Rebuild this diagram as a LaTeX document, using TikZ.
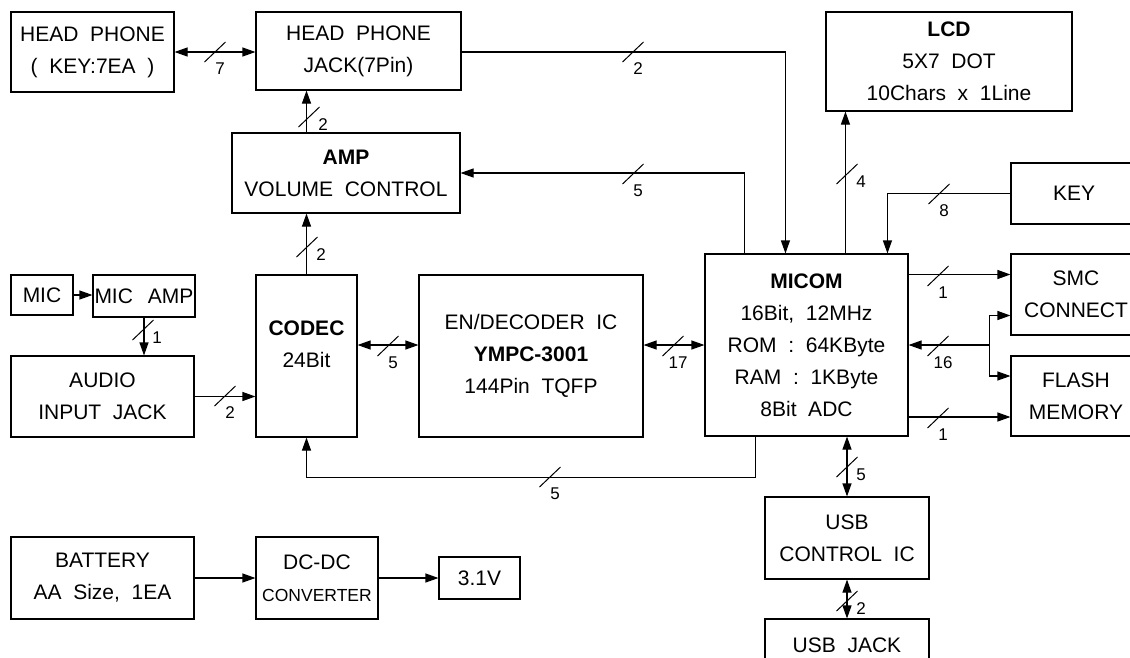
\documentclass[tikz,border=0pt]{standalone}
\usepackage{fontspec}
\setmainfont{Liberation Sans}
\usetikzlibrary{arrows.meta,calc}

\tikzset{
  >={Triangle[length=13pt,width=9pt]},   % filled arrow heads
  blk/.style={draw, line width=1.1pt, inner sep=0pt, align=center,
    font=\fontsize{21}{32}\selectfont},
  buslabel/.style={inner sep=0pt, font=\fontsize{17}{18}\selectfont},
  pics/hbus/.style={code={
    \draw[line width=1pt] (-10.5,10) -- (10.5,-10);
    \node[buslabel] (-n) at (5,17) {#1};}},
  pics/vbus/.style={code={
    \draw[line width=1pt] (-10.5,10) -- (10.5,-10);
    \node[buslabel] (-n) at (14,8) {#1};}},
}

\begin{document}
\begin{tikzpicture}[x=1pt,y=-1pt,line width=1.1pt]
	\clip (0,0) rectangle (1130,657);
	% blocks
	\node[blk, minimum width=163pt, minimum height=80pt] (hp) at (92.5,52) {HEAD\ \ PHONE\\(\ \ KEY:7EA\ \ )};
	\node[blk, minimum width=205pt, minimum height=78pt] (hpjack) at (358.5,51) {HEAD\ \ PHONE\\JACK(7Pin)};
	\node[blk, minimum width=228pt, minimum height=80pt] (amp) at (346,173) {\textbf{AMP}\\VOLUME\ \ CONTROL};
	\node[blk, minimum width=246pt, minimum height=99pt] (lcd) at (949,61.5) {\textbf{LCD}\\5X7\ \ DOT\\10Chars\ \ x\ \ 1Line};
	\node[blk, minimum width=126pt, minimum height=61pt] (key) at (1074,193.5) {KEY};
	\node[blk, minimum width=203pt, minimum height=182pt] (micom) at (806.5,345) {\textbf{MICOM}\\16Bit,\ \ 12MHz\\ROM\ \ :\ \ 64KByte\\RAM\ \ :\ \ 1KByte\\8Bit\ \ ADC};
	\node[blk, minimum width=130pt, minimum height=81pt] (smc) at (1076,294.5) {SMC\\CONNECT};
	\node[blk, minimum width=130pt, minimum height=80pt] (flash) at (1076,396) {FLASH\\MEMORY};
	\node[blk, minimum width=101pt, minimum height=162pt,
		label={[align=center, font=\fontsize{21}{32}\selectfont, yshift=12pt]center:{\textbf{CODEC}\\24Bit}}] (codec) at (306.5,356) {};
	\node[blk, minimum width=224pt, minimum height=162pt] (endec) at (531,356) {EN/DECODER\ \ IC\\\textbf{YMPC-3001}\\144Pin\ \ TQFP};
	\node[blk, minimum width=62pt, minimum height=40pt] (mic) at (42,295) {MIC};
	\node[blk, minimum width=102pt, minimum height=42pt] (micamp) at (144,296) {MIC\hspace{15pt}AMP};
	\node[blk, minimum width=183pt, minimum height=81pt] (audio) at (102.5,396.5) {AUDIO\\INPUT\ \ JACK};
	\node[blk, minimum width=183pt, minimum height=82pt] (battery) at (102.5,578) {BATTERY\\AA\ \ Size,\ \ 1EA};
	\node[blk, minimum width=122pt, minimum height=82pt] (dcdc) at (317,578) {DC-DC\\{\fontsize{17.5}{32}\selectfont CONVERTER}};
	\node[blk, minimum width=81pt, minimum height=42pt] (v31) at (479.5,578) {3.1V};
	\node[blk, minimum width=164pt, minimum height=82pt] (usbctrl) at (847,538) {USB\\CONTROL\ \ IC};
	\node[blk, minimum width=164pt, minimum height=52pt] (usbjack) at (847,645) {USB\ \ JACK};

	% ports on the blocks
	\coordinate (m-amp) at ($(micom.north west)+(40,0)$);
	\coordinate (m-hp) at ($(micom.north west)+(81,0)$);
	\coordinate (m-lcd) at ($(micom.north west)+(141,0)$);
	\coordinate (m-key) at ($(micom.north west)+(183,0)$);
	\coordinate (m-bot) at ($(micom.south west)+(51,0)$);
	\coordinate (j16) at ($(micom.east)+(81,0)$);
	\coordinate (s-in) at ($(smc.west)+(0,-20)$);
	\coordinate (s-bus) at ($(smc.west)+(0,21)$);
	\coordinate (f-bus) at ($(flash.west)+(0,-20)$);
	\coordinate (f-in) at ($(flash.west)+(0,21)$);

	% audio path
	\draw[<->] (hp.east) -- (hp.east -| hpjack.west);
	\draw[->] (amp.north -| codec.north) -- (hpjack.south -| codec.north);
	\draw[->] (codec.north) -- (codec.north |- amp.south);
	\draw[->] (mic.east) -- (mic.east -| micamp.west);
	\draw[->] (micamp.south) -- (micamp.south |- audio.north);
	\draw[->] (audio.east) -- (audio.east -| codec.west);
	\draw[<->] (codec.east |- micom.east) -- (endec.west |- micom.east);
	\draw[<->] (endec.east |- micom.west) -- (micom.west);
	\draw[->] (m-bot) -- ++(0,41) -| (codec.south);
	% micom buses
	\draw[->] (hpjack.east |- hp.east) -| (m-hp);
	\draw[->] (m-amp) |- (amp.east);
	\draw[->] (m-lcd) -- (m-lcd |- lcd.south);
	\draw[->] (key.west) -| (m-key);
	\draw[->] (micom.east |- s-in) -- (s-in);
	\draw[->] (j16) -- (micom.east);
	\draw[->] (j16) |- (s-bus);
	\draw[->] (j16) |- (f-bus);
	\draw[->] (micom.east |- f-in) -- (f-in);
	\draw[<->] (micom.south -| usbctrl.north) -- (usbctrl.north);
	\draw[<->] (usbctrl.south) -- (usbjack.north);
	% power
	\draw[->] (battery.east) -- (battery.east -| dcdc.west);
	\draw[->] (dcdc.east) -- (dcdc.east -| v31.west);

	% bus widths
	\pic (b-hp) at (215,52) {hbus=7};
	\pic (b-amphp) at (309,117) {vbus=2};
	\pic (b-hpm) at (633,52) {hbus=2};
	\pic (b-mamp) at (633,174) {hbus=5};
	\pic (b-lcd) at (847,174) {vbus=4};
	\pic (b-key) at (939,194) {hbus=8};
	\pic (b-codamp) at (307,247) {vbus=2};
	\pic (b-mic) at (143,330) {vbus=1};
	\pic (b-aud) at (225,396) {hbus=2};
	\pic (b-cod) at (388,346) {hbus=5};
	\pic (b-dec) at (673,346) {hbus=17};
	\pic (b-smc) at (938,276) {hbus=1};
	\pic (b-mem) at (938,346) {hbus=16};
	\pic (b-fl) at (938,418) {hbus=1};
	\pic (b-mcod) at (550,477) {hbus=5};
	\pic (b-usb) at (847,467) {vbus=5};
	\pic (b-jack) at (847,601) {vbus=2};
\end{tikzpicture}
\end{document}
